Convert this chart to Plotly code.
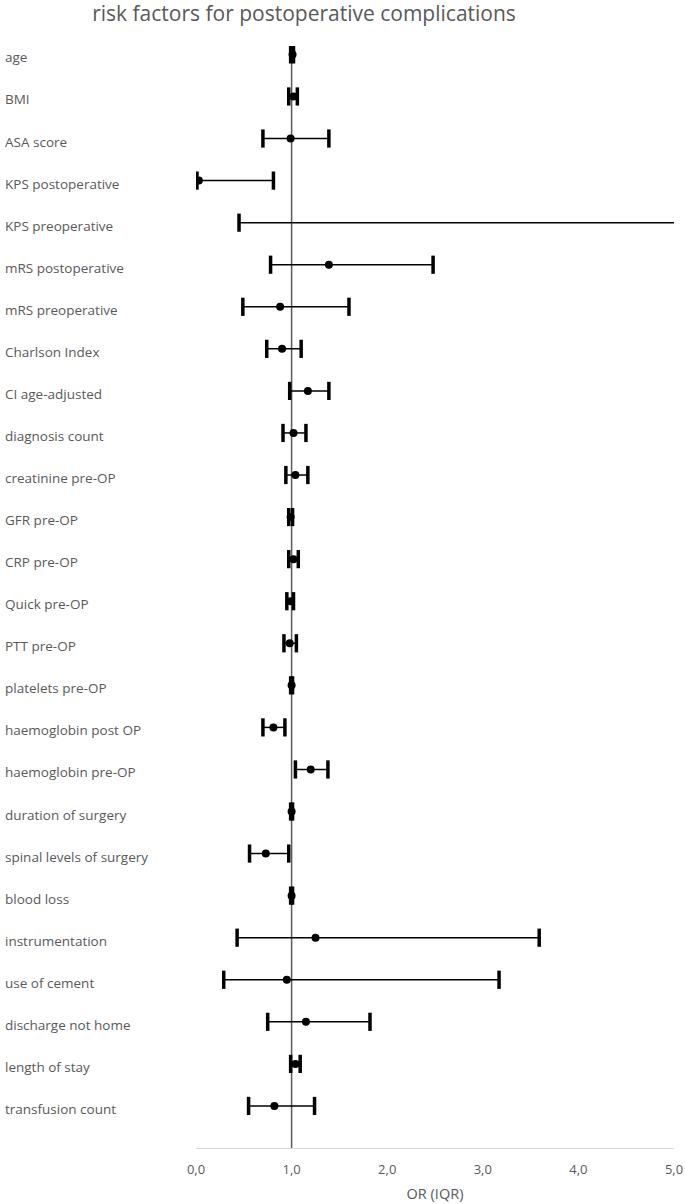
import plotly.graph_objects as go

# risk factors, top to bottom
factors = [
    "age", "BMI", "ASA score", "KPS postoperative", "KPS preoperative",
    "mRS postoperative", "mRS preoperative", "Charlson Index", "CI age-adjusted",
    "diagnosis count", "creatinine pre-OP", "GFR pre-OP", "CRP pre-OP",
    "Quick pre-OP", "PTT pre-OP", "platelets pre-OP", "haemoglobin post OP",
    "haemoglobin pre-OP", "duration of surgery", "spinal levels of surgery",
    "blood loss", "instrumentation", "use of cement", "discharge not home",
    "length of stay", "transfusion count",
]
odds_ratio = [1.01, 1.02, 0.99, 0.03, 5.9, 1.39, 0.88, 0.90, 1.17,
              1.02, 1.04, 0.99, 1.02, 0.99, 0.98, 1.00, 0.81,
              1.20, 1.00, 0.73, 1.00, 1.25, 0.95, 1.15, 1.04, 0.82]
iqr_low = [0.99, 0.97, 0.70, 0.01, 0.45, 0.78, 0.49, 0.74, 0.98,
           0.91, 0.94, 0.97, 0.97, 0.95, 0.92, 0.99, 0.70,
           1.04, 0.99, 0.56, 0.99, 0.43, 0.29, 0.75, 0.99, 0.55]
iqr_high = [1.02, 1.06, 1.39, 0.81, 38.0, 2.48, 1.60, 1.10, 1.39,
            1.15, 1.17, 1.01, 1.07, 1.02, 1.05, 1.01, 0.93,
            1.38, 1.01, 0.97, 1.01, 3.59, 3.17, 1.82, 1.09, 1.24]
x_ticks = [0, 1, 2, 3, 4, 5]

grey = "#595959"
font = "Open Sans"
n = len(factors)
ypos = list(range(n, 0, -1))

# horizontal IQR lines, one segment per factor
seg_x, seg_y = [], []
for lo, hi, y in zip(iqr_low, iqr_high, ypos):
    seg_x += [lo, hi, None]
    seg_y += [y, y, None]

fig = go.Figure()
fig.add_vline(x=1, line=dict(color=grey, width=1.5), layer="below")
fig.add_trace(go.Scatter(x=seg_x, y=seg_y, mode="lines",
                         line=dict(color="black", width=1.5), hoverinfo="skip"))
fig.add_trace(go.Scatter(x=iqr_low + iqr_high, y=ypos + ypos, mode="markers",
                         marker=dict(symbol="line-ns", size=13,
                                     line=dict(color="black", width=3.5))))
fig.add_trace(go.Scatter(x=odds_ratio, y=ypos, mode="markers",
                         marker=dict(symbol="circle", size=8, color="black")))

# left-aligned row labels
for name, y in zip(factors, ypos):
    fig.add_annotation(text=name, x=0, xref="paper", xshift=-193, xanchor="left",
                       y=y, yref="y", yshift=-3, showarrow=False,
                       font=dict(family=font, size=13.5, color=grey))

fig.update_layout(
    width=685, height=1204, autosize=False,
    margin=dict(l=196, r=11, t=46, b=56),
    plot_bgcolor="white", paper_bgcolor="white",
    showlegend=False,
    separators=",.",
    title=dict(text="risk factors for postoperative complications",
               x=304 / 685, xanchor="center", xref="container",
               y=1 - 14 / 1204, yanchor="middle",
               font=dict(family=font, size=21, color=grey)),
)
fig.update_xaxes(range=[0, 5], tickvals=x_ticks, tickformat=".1f",
                 automargin=False,
                 showgrid=False, zeroline=False,
                 showline=True, linecolor="#d9d9d9", linewidth=1,
                 ticks="", ticklabelstandoff=9,
                 tickfont=dict(family=font, size=13, color=grey),
                 title=dict(text="OR (IQR)", standoff=12,
                            font=dict(family=font, size=14.5, color=grey)))
fig.update_yaxes(range=[0, n + 0.2], showticklabels=False, showgrid=False,
                 zeroline=False, showline=False, ticks="", automargin=False)

# no default body margin, so the figure fills the window exactly
fig.write_html("out.html",
               config={"responsive": False, "displayModeBar": False},
               post_script="document.body.style.margin='0';"
                           "document.body.style.overflow='hidden';")
